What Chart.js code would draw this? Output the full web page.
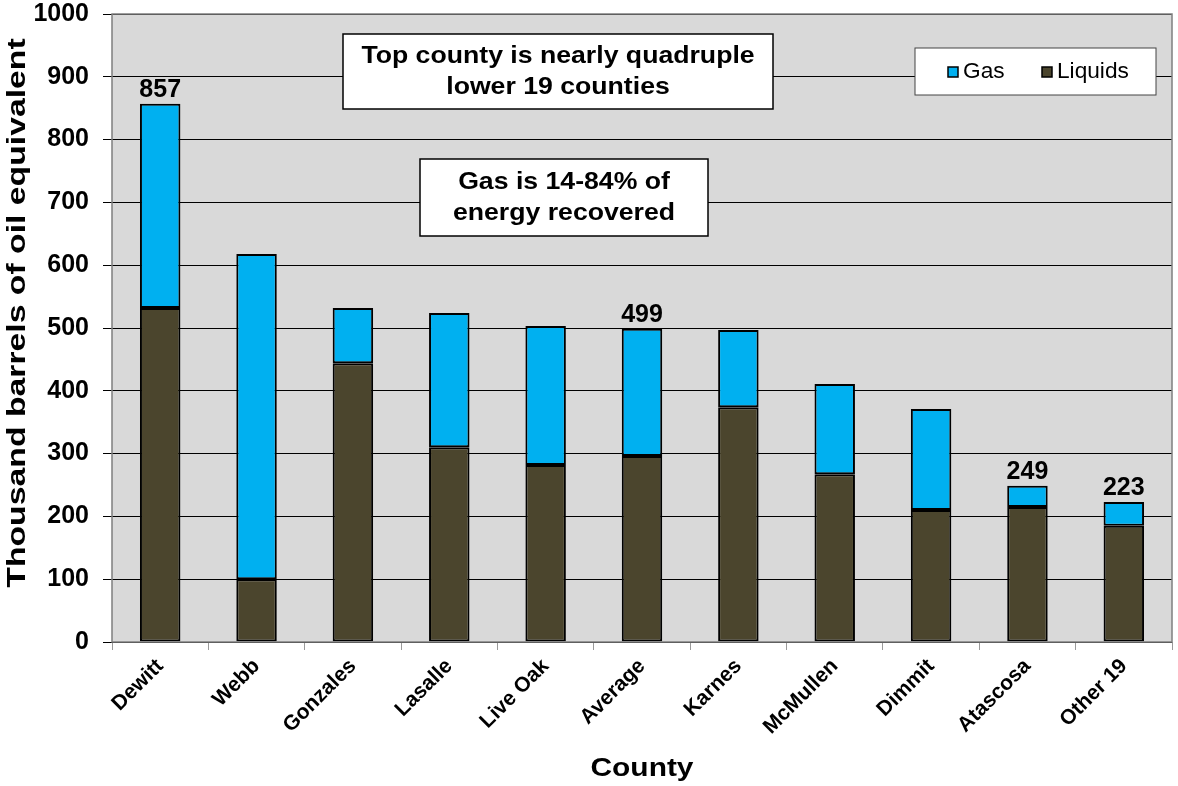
<!DOCTYPE html>
<html>
<head>
<meta charset="utf-8">
<script src="https://cdn.jsdelivr.net/npm/chart.js@4.4.1/dist/chart.umd.min.js"></script>
<style>
  html, body { margin: 0; padding: 0; background: #fff; }
  #wrap { width: 1178px; height: 786px; }
</style>
</head>
<body>
<div id="wrap"><canvas id="energyChart" width="1178" height="786"></canvas></div>
<script>
// County names along the x axis
const counties = ['Dewitt', 'Webb', 'Gonzales', 'Lasalle', 'Live Oak', 'Average',
    'Karnes', 'McMullen', 'Dimmit', 'Atascosa', 'Other 19'];
// Thousand barrels of oil equivalent
const liquids = [532, 100, 444, 310, 282, 296, 374, 267, 210, 215, 185];
const gas = [325, 518, 88, 214, 221, 203, 123, 144, 161, 34, 38];
// Bars that get their total written on top
const labeledBars = ['Dewitt', 'Average', 'Atascosa', 'Other 19'];
const yTicks = [0, 100, 200, 300, 400, 500, 600, 700, 800, 900, 1000];

const gasColor = '#00B0F0';
const liquidsColor = '#4B452D';
const fontName = '"Liberation Sans", Arial, sans-serif';

// draw text stretched along its own direction (the original art is a bit wide)
function drawText(ctx, text, x, y, font, stretch, angle) {
    ctx.save();
    ctx.translate(x, y);
    if (angle) ctx.rotate(angle);
    ctx.scale(stretch, 1);
    ctx.font = font;
    ctx.fillText(text, 0, 0);
    ctx.restore();
}

// Grey plot background and outline
const plotBackground = {
    id: 'plotBackground',
    beforeDraw(chart) {
        const { ctx, chartArea: a } = chart;
        ctx.save();
        ctx.fillStyle = '#D9D9D9';
        ctx.fillRect(a.left, a.top, a.right - a.left, a.bottom - a.top);
        ctx.restore();
    },
    afterDraw(chart) {
        const { ctx, chartArea: a } = chart;
        ctx.save();
        ctx.strokeStyle = '#7f7f7f';
        ctx.lineWidth = 1.5;
        ctx.strokeRect(a.left, a.top, a.right - a.left, a.bottom - a.top);

        // axis titles
        ctx.fillStyle = '#000';
        ctx.textAlign = 'center';
        ctx.textBaseline = 'middle';
        drawText(ctx, 'Thousand barrels of oil equivalent', 18, 313,
            'bold 25px ' + fontName, 1.35, -Math.PI / 2);
        drawText(ctx, 'County', (a.left + a.right) / 2, 769,
            'bold 26px ' + fontName, 1.15, 0);
        ctx.restore();
    }
};

// Totals on top of some bars, text boxes and the legend box
const overlays = {
    id: 'overlays',
    afterDatasetsDraw(chart) {
        const { ctx, chartArea: a, scales } = chart;
        ctx.save();

        // totals
        ctx.fillStyle = '#000';
        ctx.textAlign = 'center';
        ctx.textBaseline = 'bottom';
        counties.forEach((c, i) => {
            if (!labeledBars.includes(c)) return;
            const total = liquids[i] + gas[i];
            drawText(ctx, String(total), scales.x.getPixelForValue(i),
                scales.y.getPixelForValue(total) - 1, 'bold 25px ' + fontName, 1, 0);
        });

        // text boxes
        const box = (x, y, w, h, lines) => {
            ctx.fillStyle = '#fff';
            ctx.fillRect(x, y, w, h);
            ctx.strokeStyle = '#000';
            ctx.lineWidth = 1.5;
            ctx.strokeRect(x, y, w, h);
            ctx.fillStyle = '#000';
            ctx.textAlign = 'center';
            ctx.textBaseline = 'middle';
            const lh = 31;
            const y0 = y + h / 2 - (lines.length - 1) * lh / 2;
            lines.forEach((t, k) => drawText(ctx, t, x + w / 2, y0 + k * lh, 'bold 24px ' + fontName, 1.11, 0));
        };
        box(a.left + 231, a.top + 20, 430, 75, ['Top county is nearly quadruple', 'lower 19 counties']);
        box(a.left + 308, a.top + 145, 288, 77, ['Gas is 14-84% of', 'energy recovered']);

        // legend
        const lx = a.left + 803, ly = a.top + 34;
        ctx.fillStyle = '#fff';
        ctx.fillRect(lx, ly, 241, 47);
        ctx.strokeStyle = '#444';
        ctx.lineWidth = 1;
        ctx.strokeRect(lx, ly, 241, 47);
        const entries = [['Gas', gasColor, lx + 33], ['Liquids', liquidsColor, lx + 127]];
        ctx.textAlign = 'left';
        ctx.textBaseline = 'middle';
        entries.forEach(([name, col, ex]) => {
            ctx.fillStyle = col;
            ctx.fillRect(ex, ly + 19, 10, 10);
            ctx.strokeStyle = '#000';
            ctx.lineWidth = 1.5;
            ctx.strokeRect(ex, ly + 19, 10, 10);
            ctx.fillStyle = '#000';
            drawText(ctx, name, ex + 15, ly + 24, '22px ' + fontName, 1.03, 0);
        });

        ctx.restore();
    }
};

const ctx = document.getElementById('energyChart').getContext('2d');
const energyChart = new Chart(ctx, {
    type: 'bar',
    data: {
        labels: counties,
        datasets: [
            {
                label: 'Liquids',
                data: liquids,
                backgroundColor: liquidsColor,
                borderColor: '#000',
                borderWidth: 2,
                borderSkipped: false,
                barPercentage: 0.42,
                categoryPercentage: 1
            },
            {
                label: 'Gas',
                data: gas,
                backgroundColor: gasColor,
                borderColor: '#000',
                borderWidth: 2,
                borderSkipped: false,
                barPercentage: 0.42,
                categoryPercentage: 1
            }
        ]
    },
    options: {
        responsive: false,
        animation: false,
        layout: { padding: { top: 14, right: 6, left: 0, bottom: 0 } },
        plugins: {
            legend: { display: false },
            tooltip: { enabled: false }
        },
        scales: {
            x: {
                stacked: true,
                offset: true,
                grid: {
                    offset: true,
                    drawOnChartArea: false,
                    color: '#9a9a9a',
                    tickLength: 8
                },
                border: { display: false },
                ticks: {
                    color: '#000',
                    font: { family: fontName, size: 21, weight: 'bold' },
                    minRotation: 45,
                    maxRotation: 45,
                    padding: 4
                },
                afterFit(scale) {
                    scale.height = 144;
                    scale.paddingLeft = 0;
                    scale.paddingRight = 0;
                }
            },
            y: {
                stacked: true,
                min: 0,
                max: 1000,
                afterBuildTicks(scale) { scale.ticks = yTicks.map(v => ({ value: v })); },
                grid: {
                    color: '#000',
                    lineWidth: 1,
                    tickLength: 9
                },
                border: { display: false },
                ticks: {
                    color: '#000',
                    font: { family: fontName, size: 25, weight: 'bold' },
                    padding: 14,
                    callback: v => String(v)
                },
                afterFit(scale) {
                    scale.width = 112;
                    scale.paddingTop = 0;
                    scale.paddingBottom = 0;
                }
            }
        }
    },
    plugins: [plotBackground, overlays]
});
</script>
</body>
</html>
